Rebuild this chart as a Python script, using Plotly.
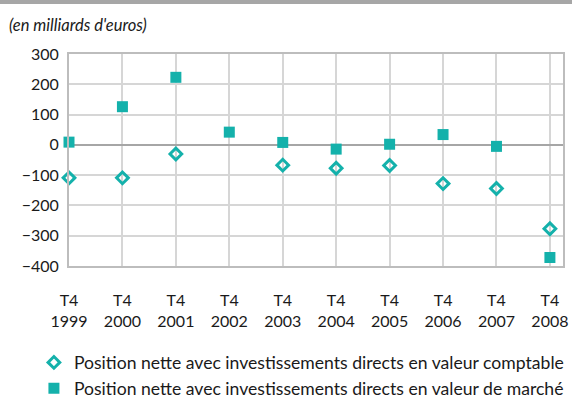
import plotly.graph_objects as go

years = ["1999", "2000", "2001", "2002", "2003", "2004", "2005", "2006", "2007", "2008"]
tick_labels = ["T4<br>" + y for y in years]
book_value = [-109, -109, -30, None, -67, -77, -68, -128, -144, -277]
market_value = [9, 126, 223, 42, 8, -14, 2, 34, -5, -372]

teal = "#14B1AB"
xpos = list(range(len(years)))

fig = go.Figure()
fig.add_trace(go.Scatter(
    x=xpos, y=book_value, mode="markers",
    name="Position nette avec investissements directs en valeur comptable",
    marker=dict(symbol="diamond-open", size=9, color=teal, line=dict(width=3, color=teal)),
    legendgroup="a", cliponaxis=False,
))
fig.add_trace(go.Scatter(
    x=xpos, y=market_value, mode="markers",
    name="Position nette avec investissements directs en valeur de marché",
    marker=dict(symbol="square", size=11, color=teal),
    legendgroup="b", cliponaxis=False,
))

font_family = "Lato, 'Open Sans', sans-serif"
fig.update_layout(
    width=572, height=400,
    margin=dict(l=69, r=9, t=54, b=134, autoexpand=False),
    paper_bgcolor="white", plot_bgcolor="white",
    font=dict(family=font_family, size=16, color="#1a1a1a"),
    showlegend=True,
    legend=dict(
        x=-0.071, y=-0.37, xanchor="left", yanchor="top",
        font=dict(size=17.6, color="#1a1a1a"),
        tracegroupgap=0, bgcolor="rgba(0,0,0,0)",
    ),
    xaxis=dict(
        range=[0, 9.245], tickmode="array", tickvals=xpos, ticktext=tick_labels,
        showgrid=True, gridcolor="#d6d6d6", gridwidth=1.5,
        showline=True, linecolor="#bdbdbd", linewidth=2, mirror=True,
        zeroline=False, ticks="", ticklabelstandoff=19, automargin=False,
        tickfont=dict(size=16),
    ),
    yaxis=dict(
        range=[-400, 300], tickmode="array", tickvals=list(range(-400, 301, 100)),
        showgrid=True, gridcolor="#d6d6d6", gridwidth=1.5,
        showline=True, linecolor="#bdbdbd", linewidth=2, mirror=True,
        zeroline=True, zerolinecolor="#a6a6a6", zerolinewidth=2,
        ticks="", ticklabelstandoff=5, automargin=False, tickfont=dict(size=16),
    ),
    shapes=[dict(type="rect", xref="paper", yref="paper", x0=-0.2, x1=1.1,
                 y0=1.236, y1=1.27, fillcolor="#a6a6a6", line=dict(width=0))],
    annotations=[dict(text="<i>(en milliards d'euros)</i>", xref="paper", yref="paper",
                      x=-0.1255, y=1.137, xanchor="left", yanchor="middle",
                      showarrow=False, font=dict(size=16.5, color="#1a1a1a", family=font_family),
                      )],
)
fig.write_html("out.html", config={"displayModeBar": False},
               post_script="document.body.style.margin='0';document.body.style.padding='0';")
